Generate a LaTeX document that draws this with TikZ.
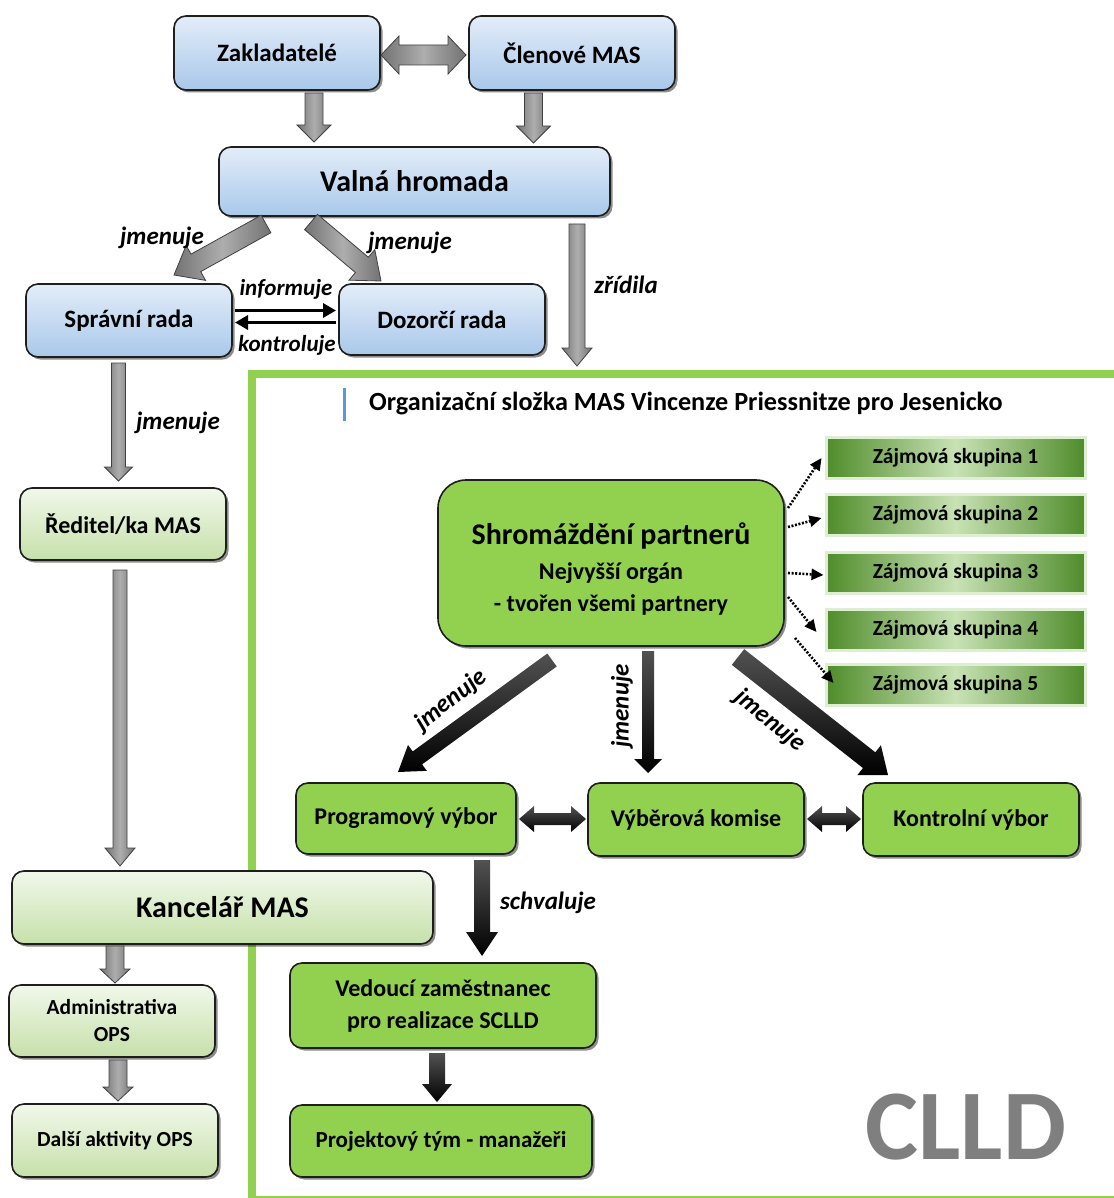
\documentclass[tikz,border=0pt]{standalone}
\usepackage{fontspec}
\setmainfont{Carlito}
\usetikzlibrary{calc,shadows,arrows.meta}
\definecolor{bluetop}{HTML}{E3EDF9}
\definecolor{bluebot}{HTML}{A9C8EA}
\definecolor{lgtop}{HTML}{F1F8EA}
\definecolor{lgbot}{HTML}{C6E0AA}
\definecolor{grn}{HTML}{92D050}
\definecolor{zdark}{HTML}{4F8C2A}
\definecolor{zlight}{HTML}{C8E2B4}
\definecolor{zedge}{HTML}{DDEED2}
\definecolor{framegreen}{HTML}{92D050}
\definecolor{barblue}{HTML}{5B9BD5}
\definecolor{clldgray}{HTML}{7F7F7F}
\definecolor{edgecol}{HTML}{1E1E1E}

\newcommand\blockarr[6]{%
  \coordinate (baA) at (#2);
  \coordinate (baB) at (#3);
  \coordinate (baH) at ($(baB)!#6pt!(baA)$);
  \path[#1] ($(baA)!#4pt!90:(baB)$) -- ($(baH)!#4pt!-90:(baA)$) -- ($(baH)!#5pt!-90:(baA)$) -- (baB) -- ($(baH)!#5pt!90:(baA)$) -- ($(baH)!#4pt!90:(baA)$) -- ($(baA)!#4pt!-90:(baB)$) -- cycle;
}
\newcommand\dblockarr[6]{%
  \coordinate (baA) at (#2);
  \coordinate (baB) at (#3);
  \coordinate (baH) at ($(baB)!#6pt!(baA)$);
  \coordinate (baG) at ($(baA)!#6pt!(baB)$);
  \path[#1] (baA) -- ($(baG)!#5pt!90:(baB)$) -- ($(baG)!#4pt!90:(baB)$) -- ($(baH)!#4pt!-90:(baA)$) -- ($(baH)!#5pt!-90:(baA)$) -- (baB) -- ($(baH)!#5pt!90:(baA)$) -- ($(baH)!#4pt!90:(baA)$) -- ($(baG)!#4pt!-90:(baB)$) -- ($(baG)!#5pt!-90:(baB)$) -- cycle;
}

\tikzset{
  x=1pt, y=-1pt,
  basebox/.style={draw=edgecol, line width=1.6pt, rounded corners=12pt, inner sep=0pt, outer sep=0pt, align=center,
    drop shadow={shadow xshift=2.5pt, shadow yshift=-2.5pt, opacity=0.45, fill=black}},
  bluebox/.style={basebox, top color=bluetop, bottom color=bluebot},
  lgbox/.style={basebox, top color=lgtop, bottom color=lgbot},
  gbox/.style={basebox, fill=grn},
  zbox/.style={draw=zedge, line width=3pt, left color=zdark, right color=zdark, middle color=zlight, inner sep=0pt,
    minimum width=259pt, minimum height=41pt, font=\bfseries\fontsize{21.5}{26}\selectfont},
  fbig/.style={font=\bfseries\fontsize{30}{36}\selectfont},
  fmid/.style={font=\bfseries\fontsize{25}{30}\selectfont},
  fsm/.style={font=\bfseries\fontsize{24}{32}\selectfont},
  fxs/.style={font=\bfseries\fontsize{21.5}{27}\selectfont},
  grayarr/.style={draw=black!75, line width=0.8pt, left color=black!55, right color=black!55, middle color=black!32},
  blackarr/.style={top color=black!68, bottom color=black},
  lbl/.style={font=\bfseries\itshape\fontsize{25}{30}\selectfont, inner sep=0pt},
  dotarr/.style={dash pattern=on 2pt off 1.6pt, line width=2.6pt, -{Triangle[length=12pt,width=11pt]}},
  thinarr/.style={line width=3.5pt, -{Triangle[length=13pt,width=14pt]}},
}

\begin{document}
\begin{tikzpicture}
\useasboundingbox (0,0) rectangle (1113,1198);

% green frame of the organisational unit
\draw[framegreen, line width=8pt] (252,1202) -- (252,373.5) -- (1117,373.5);
\draw[framegreen, line width=2pt] (252,1196.5) -- (1117,1196.5);
\draw[barblue, line width=3pt] (344,388) -- (344,421);
\node[anchor=west, font=\bfseries\fontsize{26.2}{30}\selectfont, inner sep=0pt] (hdr) at (369,404) {Organizační složka MAS Vincenze Priessnitze pro Jesenicko};

% left column (blue / light green boxes)
\node[bluebox, fmid, minimum width=206pt, minimum height=74pt] (zak) at (277,53) {Zakladatelé};
\node[bluebox, fmid, minimum width=206pt, minimum height=74pt] (cle) at (572,53) {Členové MAS};
\node[bluebox, fbig, minimum width=391pt, minimum height=69pt] (valna) at (414.5,181.5) {Valná hromada};
\node[bluebox, fmid, minimum width=206pt, minimum height=73pt] (spr) at (129,320.5) {Správní rada};
\node[bluebox, fmid, minimum width=206pt, minimum height=71pt] (doz) at (442,319.5) {Dozorčí rada};
\node[lgbox, fsm, minimum width=206pt, minimum height=72pt] (red) at (123,524) {Ředitel/ka MAS};
\node[lgbox, fbig, minimum width=421pt, minimum height=73pt] (kanc) at (222.5,907.5) {Kancelář MAS};
\node[lgbox, fxs, minimum width=206pt, minimum height=72pt] (adm) at (112,1021) {Administrativa\\OPS};
\node[lgbox, fxs, minimum width=206pt, minimum height=73pt] (dal) at (115,1140.5) {Další aktivity OPS};

% green boxes
\node[gbox, fsm, rounded corners=28pt, minimum width=346pt, minimum height=166pt] (shrom) at (611,563)
  {{\fontsize{30}{36}\selectfont\rule{0pt}{33pt}Shromáždění partnerů}\\[3pt]Nejvyšší orgán\\- tvořen všemi partnery};
\node[zbox] (z1) at (955.5,457.5) {Zájmová skupina 1};
\node[zbox] (z2) at (955.5,514.5) {Zájmová skupina 2};
\node[zbox] (z3) at (955.5,572.5) {Zájmová skupina 3};
\node[zbox] (z4) at (955.5,629.5) {Zájmová skupina 4};
\node[zbox] (z5) at (955.5,685) {Zájmová skupina 5};
\node[gbox, fsm, minimum width=220pt, minimum height=71pt] (prog) at (406,818.5) {Programový výbor};
\node[gbox, fsm, minimum width=216pt, minimum height=73pt] (vyb) at (696,819.5) {Výběrová komise};
\node[gbox, fsm, minimum width=216pt, minimum height=73pt] (kont) at (971,819.5) {Kontrolní výbor};
\node[gbox, fsm, minimum width=306pt, minimum height=85pt] (ved) at (443,1005.5) {Vedoucí zaměstnanec\\pro realizace SCLLD};
\node[gbox, font=\bfseries\fontsize{23}{28}\selectfont, minimum width=302pt, minimum height=72pt] (proj) at (441,1141) {Projektový tým - manažeři};

% gray block arrows
\dblockarr{grayarr}{$(zak.east)+(1,2)$}{$(cle.west)+(-3,2)$}{10}{19}{18}
\blockarr{grayarr}{$(zak.south)+(37,3)$}{$(valna.north)+(-100.5,-5)$}{9}{17}{17}
\blockarr{grayarr}{$(cle.south)+(-38.5,3)$}{$(valna.north)+(119,-4)$}{9}{17}{17}
\blockarr{grayarr}{$(valna.south)+(-148.5,8)$}{$(spr.north)+(45,-9)$}{10}{20}{25}
\blockarr{grayarr}{$(valna.south)+(-103.5,6)$}{$(doz.north)+(-61,-3)$}{10}{20}{25}
\coordinate (zrid) at ($(valna.south)+(162.5,150)$);
\blockarr{grayarr}{$(valna.south)+(162.5,8)$}{zrid}{8}{15}{18}
\blockarr{grayarr}{$(spr.south)+(-10.5,6)$}{$(red.north)+(-4.5,-7)$}{7}{14}{14}
\blockarr{grayarr}{$(red.south)+(-3,10)$}{$(kanc.north)+(-102.5,-5)$}{7}{15}{18}
\blockarr{grayarr}{$(kanc.south)+(-107.5,2)$}{$(adm.north)+(3,-2)$}{9}{15}{14}
\blockarr{grayarr}{$(adm.south)+(6,3)$}{$(dal.north)+(3,-3)$}{9}{15}{14}

% thin black arrows
\draw[thinarr] ($(spr.east)+(3,-10)$) -- ($(doz.west)+(-3,-9)$);
\draw[thinarr] ($(doz.west)+(-3,3)$) -- ($(spr.east)+(3,2)$);

% black block arrows
\blockarr{blackarr}{$(shrom.south)+(-59,14)$}{$(prog.north)+(-8,-11)$}{8}{16}{24}
\blockarr{blackarr}{$(shrom.south)+(37,5)$}{$(vyb.north)+(-48,-10)$}{6}{14}{14}
\blockarr{blackarr}{$(shrom.south)+(127,11)$}{$(kont.north)+(-83,-8)$}{10}{19}{24}
\dblockarr{blackarr}{$(prog.east)+(3,0.5)$}{$(vyb.west)+(-2,-0.5)$}{6}{13}{15}
\dblockarr{blackarr}{$(vyb.east)+(3,-0.5)$}{$(kont.west)+(-2,-0.5)$}{6}{13}{15}
\blockarr{blackarr}{$(prog.south)+(76,6)$}{$(ved.north)+(39,-7)$}{8}{16}{24}
\blockarr{blackarr}{$(ved.south)+(-6,5)$}{$(proj.north)+(-4,-3)$}{8}{15}{18}

% dotted arrows
\draw[dotarr] ($(shrom.east)+(4,-55)$) -- ($(z1.west)+(-3,0.5)$);
\draw[dotarr] ($(shrom.east)+(4,-36)$) -- ($(z2.west)+(-3,3.5)$);
\draw[dotarr] ($(shrom.east)+(4,10)$) -- ($(z3.west)+(-1,2.5)$);
\draw[dotarr] ($(shrom.east)+(4,34)$) -- ($(z4.west)+(-8,2.5)$);
\draw[dotarr] ($(shrom.east)+(11,75)$) -- ($(z5.west)+(9,-2)$);

% labels
\node[lbl] (l1) at (162,238) {jmenuje};
\node[lbl] (l2) at (410,243) {jmenuje};
\node[lbl, font=\bfseries\itshape\fontsize{23}{28}\selectfont] (l3) at (286,289) {informuje};
\node[lbl, font=\bfseries\itshape\fontsize{23}{28}\selectfont] (l4) at (287,345) {kontroluje};
\node[lbl] (l5) at (626,285) {zřídila};
\node[lbl] (l6) at (178,423) {jmenuje};
\node[lbl, rotate=38] (l7) at (451,700) {jmenuje};
\node[lbl, rotate=90] (l8) at (622,706) {jmenuje};
\node[lbl, rotate=-39] (l9) at (770,721) {jmenuje};
\node[lbl] (l10) at (548,903) {schvaluje};

\node[font=\bfseries\fontsize{100}{100}\selectfont, text=clldgray, inner sep=0pt] (clld) at (966,1127) {CLLD};
\end{tikzpicture}
\end{document}
